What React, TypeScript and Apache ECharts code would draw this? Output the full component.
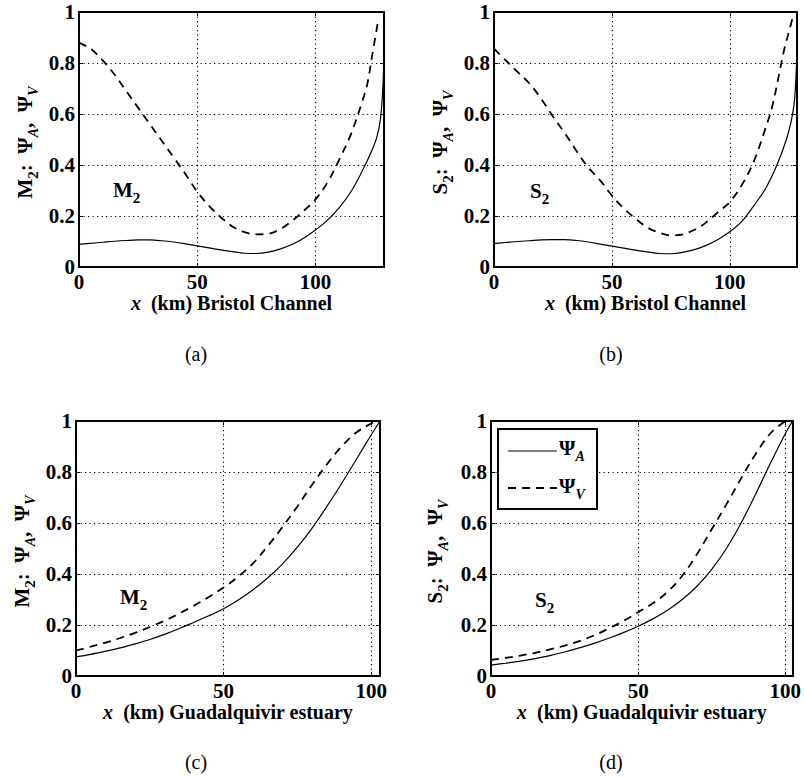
import React, { useEffect, useRef } from 'react';
import * as echarts from 'echarts';

const FONT = '"Liberation Serif", "Times New Roman", Times, serif';

// ---------- data ----------
const xTicks = [0, 50, 100];
const yTicks = [0, 0.2, 0.4, 0.6, 0.8, 1];

// (a) Bristol Channel, M2
const xBristolM2_A = [0, 5, 10, 15, 20, 25, 30, 35, 40, 45, 50, 55, 60, 65, 70, 75, 80, 85, 90, 95, 100, 105, 110, 115, 120, 124, 126, 127.5, 128.5, 129];
const psiA_BristolM2 = [0.089, 0.093, 0.097, 0.101, 0.104, 0.106, 0.106, 0.103, 0.098, 0.091, 0.083, 0.075, 0.067, 0.06, 0.054, 0.053, 0.058, 0.07, 0.088, 0.113, 0.145, 0.183, 0.232, 0.295, 0.38, 0.46, 0.51, 0.58, 0.7, 0.85];
const xBristolM2_V = [0, 5, 10, 15, 20, 25, 30, 35, 40, 45, 50, 55, 60, 65, 70, 75, 80, 85, 90, 95, 100, 105, 110, 115, 120, 122, 124, 126.7];
const psiV_BristolM2 = [0.88, 0.855, 0.81, 0.755, 0.69, 0.625, 0.56, 0.495, 0.43, 0.365, 0.295, 0.24, 0.195, 0.158, 0.137, 0.128, 0.13, 0.148, 0.18, 0.22, 0.265, 0.33, 0.42, 0.52, 0.655, 0.72, 0.83, 0.975];

// (b) Bristol Channel, S2
const xBristolS2_A = [0, 5, 10, 15, 20, 25, 30, 35, 40, 45, 50, 55, 60, 65, 70, 75, 80, 85, 90, 95, 100, 105, 110, 115, 120, 124, 126, 127.5, 128.5];
const psiA_BristolS2 = [0.092, 0.096, 0.1, 0.103, 0.106, 0.107, 0.107, 0.104, 0.098, 0.09, 0.082, 0.074, 0.066, 0.059, 0.053, 0.052, 0.057, 0.068, 0.085, 0.108, 0.138, 0.178, 0.238, 0.305, 0.4, 0.5, 0.57, 0.66, 0.85];
const xBristolS2_V = [0, 5, 10, 15, 20, 25, 30, 35, 40, 45, 50, 55, 60, 65, 70, 75, 80, 85, 90, 95, 100, 105, 110, 115, 118, 121, 123, 125, 127];
const psiV_BristolS2 = [0.856, 0.81, 0.765, 0.72, 0.66, 0.59, 0.525, 0.455, 0.39, 0.34, 0.28, 0.23, 0.19, 0.155, 0.135, 0.124, 0.128, 0.146, 0.175, 0.215, 0.255, 0.32, 0.41, 0.54, 0.63, 0.76, 0.85, 0.92, 0.99];

// (c) Guadalquivir estuary, M2
const xGuadM2_A = [0, 5, 10, 15, 20, 25, 30, 35, 40, 45, 50, 55, 60, 65, 70, 75, 80, 85, 90, 95, 100, 103];
const psiA_GuadM2 = [0.075, 0.085, 0.097, 0.11, 0.126, 0.143, 0.163, 0.186, 0.211, 0.236, 0.264, 0.298, 0.338, 0.385, 0.44, 0.505, 0.58, 0.665, 0.755, 0.85, 0.945, 1.0];
const xGuadM2_V = [0, 5, 10, 15, 20, 25, 30, 35, 40, 45, 50, 55, 60, 65, 70, 75, 80, 85, 90, 95, 100, 102];
const psiV_GuadM2 = [0.1, 0.115, 0.131, 0.149, 0.169, 0.192, 0.217, 0.245, 0.276, 0.31, 0.347, 0.39, 0.442, 0.51, 0.585, 0.665, 0.75, 0.83, 0.9, 0.955, 0.99, 1.0];

// (d) Guadalquivir estuary, S2
const xGuadS2_A = [0, 5, 10, 15, 20, 25, 30, 35, 40, 45, 50, 55, 60, 65, 70, 75, 80, 85, 90, 95, 100, 102.5];
const psiA_GuadS2 = [0.043, 0.05, 0.058, 0.068, 0.08, 0.094, 0.11, 0.128, 0.148, 0.17, 0.195, 0.224, 0.258, 0.3, 0.352, 0.418, 0.5, 0.6, 0.715, 0.835, 0.95, 1.0];
const xGuadS2_V = [0, 5, 10, 15, 20, 25, 30, 35, 40, 45, 50, 55, 60, 65, 70, 75, 80, 85, 90, 95, 100];
const psiV_GuadS2 = [0.063, 0.071, 0.08, 0.091, 0.104, 0.119, 0.137, 0.159, 0.186, 0.216, 0.25, 0.285, 0.33, 0.393, 0.478, 0.575, 0.673, 0.775, 0.872, 0.952, 1.0];

const seriesNames = ['ΨA', 'ΨV'];
const places = ['Bristol Channel', 'Bristol Channel', 'Guadalquivir estuary', 'Guadalquivir estuary'];
const tides = ['M', 'S', 'M', 'S'];
const captions = ['(a)', '(b)', '(c)', '(d)'];
const xMaxes = [129, 128.5, 103, 102.5];

// ---------- layout ----------
const layout = [
  { left: 79, top: 12, width: 305, height: 255, yLabelX: 25, tideX: 113, tideY: 190, capX: 196, capY: 354 },
  { left: 494, top: 12, width: 303, height: 255, yLabelX: 440, tideX: 530, tideY: 191, capX: 611, capY: 354 },
  { left: 76, top: 421, width: 304, height: 255, yLabelX: 22, tideX: 120, tideY: 597, capX: 196, capY: 762 },
  { left: 491, top: 421, width: 305, height: 255, yLabelX: 435, tideX: 535, tideY: 600, capX: 611, capY: 762 },
];

const panelData = [
  { xa: xBristolM2_A, ya: psiA_BristolM2, xv: xBristolM2_V, yv: psiV_BristolM2 },
  { xa: xBristolS2_A, ya: psiA_BristolS2, xv: xBristolS2_V, yv: psiV_BristolS2 },
  { xa: xGuadM2_A, ya: psiA_GuadM2, xv: xGuadM2_V, yv: psiV_GuadM2 },
  { xa: xGuadS2_A, ya: psiA_GuadS2, xv: xGuadS2_V, yv: psiV_GuadS2 },
];

const zip = (xs: number[], ys: number[]) => xs.map((x, i) => [x, ys[i]]);

// main text: line height 30 -> centre at +15; digit subscript centre at +24 (drop 9); letter subscript centre at +27 (drop 12)
const richMain = (size: number) => ({
  n: { fontFamily: FONT, fontWeight: 'bold', fontSize: size, lineHeight: 30, color: '#000' },
  s: { fontFamily: FONT, fontWeight: 'bold', fontSize: 15, lineHeight: 12, verticalAlign: 'bottom', color: '#000' },
  si: { fontFamily: FONT, fontWeight: 'bold', fontStyle: 'italic', fontSize: 14, lineHeight: 6, verticalAlign: 'bottom', color: '#000' },
  i: { fontFamily: FONT, fontWeight: 'bold', fontStyle: 'italic', fontSize: size, lineHeight: 30, color: '#000' },
});

function buildOption() {
  const grid: any[] = [];
  const xAxis: any[] = [];
  const yAxis: any[] = [];
  const series: any[] = [];
  const graphic: any[] = [];

  const lineBorder = { show: true, onZero: false, lineStyle: { color: '#000', width: 2 } };
  const tickIn = { show: true, inside: true, length: 4, lineStyle: { color: '#000', width: 1 } };
  const dotted = { show: true, lineStyle: { color: '#000', width: 1.1, type: [1.2, 3.3] } };
  const labelStyle = { color: '#000', fontFamily: FONT, fontWeight: 'bold', fontSize: 21 };

  layout.forEach((L, i) => {
    grid.push({ left: L.left, top: L.top, width: L.width, height: L.height, containLabel: false });
    xAxis.push({
      gridIndex: i, type: 'value', min: 0, max: xMaxes[i], interval: 50, position: 'bottom',
      axisLine: lineBorder, axisTick: tickIn,
      axisLabel: { ...labelStyle, margin: 4, formatter: (v: number) => (xTicks.includes(v) ? String(v) : '') },
      splitLine: dotted,
      name: '{i|x}{n|  (km) ' + places[i] + '}',
      nameLocation: 'middle', nameGap: 19,
      nameTextStyle: { rich: richMain(20) },
    });
    xAxis.push({
      gridIndex: i, type: 'value', min: 0, max: xMaxes[i], interval: 50, position: 'top',
      axisLine: lineBorder, axisTick: tickIn, axisLabel: { show: false }, splitLine: { show: false },
    });
    yAxis.push({
      gridIndex: i, type: 'value', min: 0, max: 1, interval: 0.2, position: 'left',
      axisLine: lineBorder, axisTick: tickIn,
      axisLabel: {
        ...labelStyle, margin: 4,
        formatter: (v: number) => {
          const r = Math.round(v * 10) / 10;
          return yTicks.includes(r) ? String(r) : '';
        },
      },
      splitLine: dotted,
    });
    yAxis.push({
      gridIndex: i, type: 'value', min: 0, max: 1, interval: 0.2, position: 'right',
      axisLine: lineBorder, axisTick: tickIn, axisLabel: { show: false }, splitLine: { show: false },
    });

    const d = panelData[i];
    series.push({
      name: seriesNames[0], type: 'line', xAxisIndex: 2 * i, yAxisIndex: 2 * i,
      data: zip(d.xa, d.ya), symbol: 'none', showSymbol: false, smooth: 0.35,
      lineStyle: { color: '#000', width: 1.2, type: 'solid' }, z: 3,
    });
    series.push({
      name: seriesNames[1], type: 'line', xAxisIndex: 2 * i, yAxisIndex: 2 * i,
      data: zip(d.xv, d.yv), symbol: 'none', showSymbol: false, smooth: 0.35,
      lineStyle: { color: '#000', width: 1.8, type: [8, 6] }, z: 3,
    });

    // y axis label
    graphic.push({
      type: 'text', x: L.yLabelX, y: L.top + L.height / 2 + 3, rotation: Math.PI / 2,
      style: {
        text: '{n|' + tides[i] + '}{s|2}{n|:  Ψ}{si|A}{n|,  Ψ}{si|V}',
        rich: richMain(21), align: 'center', verticalAlign: 'middle',
      },
    });
    // tide label in plot
    graphic.push({
      type: 'text', x: L.tideX, y: L.tideY, z: 10,
      style: { text: '{n|' + tides[i] + '}{s|2}', rich: richMain(21), align: 'left', verticalAlign: 'middle' },
    });
    // caption
    graphic.push({
      type: 'text', x: L.capX, y: L.capY,
      style: { text: captions[i], fill: '#000', font: '20px ' + FONT, align: 'center', verticalAlign: 'middle' },
    });
  });

  // legend box in panel (d)
  const lg = { x: 498, y: 429, w: 99, h: 80 };
  graphic.push({
    type: 'rect', z: 20, shape: { x: lg.x, y: lg.y, width: lg.w, height: lg.h },
    style: { fill: '#fff', stroke: '#000', lineWidth: 2 },
  });
  graphic.push({
    type: 'line', z: 21, shape: { x1: 508, y1: 451, x2: 557, y2: 451 },
    style: { stroke: '#000', lineWidth: 1.2 },
  });
  graphic.push({
    type: 'line', z: 21, shape: { x1: 508, y1: 488, x2: 557, y2: 488 },
    style: { stroke: '#000', lineWidth: 1.8, lineDash: [8, 6] },
  });
  graphic.push({
    type: 'text', z: 21, x: 559, y: 448,
    style: { text: '{n|Ψ}{si|A}', rich: richMain(21), align: 'left', verticalAlign: 'middle' },
  });
  graphic.push({
    type: 'text', z: 21, x: 559, y: 486,
    style: { text: '{n|Ψ}{si|V}', rich: richMain(21), align: 'left', verticalAlign: 'middle' },
  });

  return {
    animation: false,
    backgroundColor: '#fff',
    textStyle: { fontFamily: FONT },
    grid, xAxis, yAxis, series, graphic,
  };
}

export default function App() {
  const ref = useRef<HTMLDivElement>(null);
  useEffect(() => {
    if (!ref.current) return;
    const chart = echarts.init(ref.current, undefined, { renderer: 'svg' });
    chart.setOption(buildOption() as any);
    return () => chart.dispose();
  }, []);
  return (
    <div
      ref={ref}
      style={{ position: 'fixed', left: 0, top: 0, width: 804, height: 778, background: '#fff' }}
    />
  );
}
